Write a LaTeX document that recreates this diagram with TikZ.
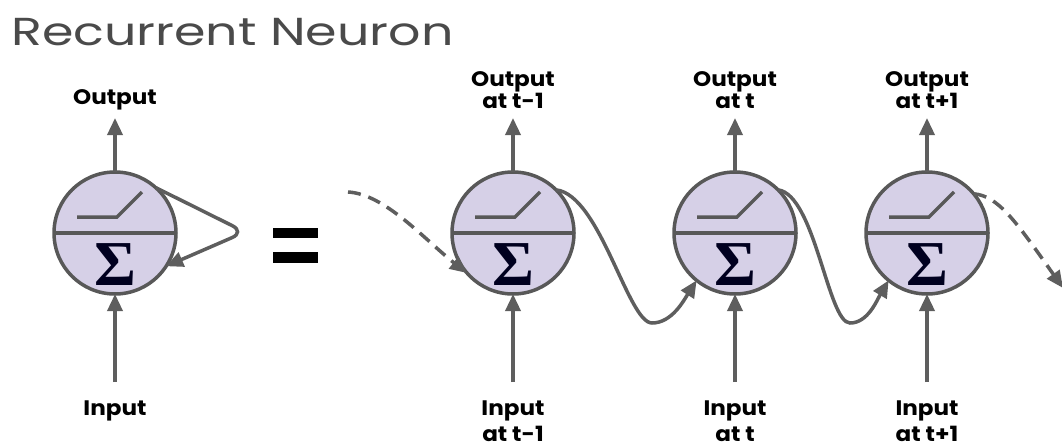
\documentclass[tikz,border=0pt]{standalone}
\usepackage{fontspec}
\setmainfont{Poppins}
\newfontfamily\sigfont{Liberation Serif}
\newfontfamily\lblfont[FakeStretch=1.1]{Poppins}
\newfontfamily\ttlfont[FakeStretch=1.3]{Poppins}
\usetikzlibrary{arrows.meta}
\definecolor{lav}{HTML}{D6D0E7}
\definecolor{edgec}{HTML}{585858}
\definecolor{arrc}{HTML}{5E5E5E}
\definecolor{ttl}{HTML}{4A4A4A}
\begin{document}
\begin{tikzpicture}[x=1pt,y=-1pt,
  neuron/.style={circle, draw=edgec, line width=3.5pt, fill=lav, minimum size=122pt, inner sep=0pt, outer sep=0pt},
  arr/.style={draw=arrc, line width=3.5pt, -{Triangle[length=17pt,width=15pt]}},
  dasharr/.style={arr, dash pattern=on 13pt off 8pt},
  lbl/.style={font=\lblfont\bfseries\fontsize{21}{22}\selectfont, align=center, text=black, inner sep=0pt},
  lblin/.style={font=\lblfont\bfseries\fontsize{21}{26}\selectfont, align=center, text=black, inner sep=0pt},
  inner/.style={draw=edgec, line width=3.5pt},
  sig/.style={font=\sigfont\bfseries\fontsize{64}{64}\selectfont, text=black!88!blue, inner sep=0pt}
]
\useasboundingbox (0,0) rectangle (1062,447);

% title
\node[anchor=base west, inner sep=0pt, text=ttl, font=\ttlfont\fontsize{39}{39}\selectfont] (title) at (11,45) {Recurrent Neuron};

% neurons
\foreach \n/\x in {n0/115, n1/513, n2/735, n3/927}{
  \node[neuron] (\n) at (\x,233) {};
  \draw[inner] (\n.west) -- (\n.east);
  \draw[inner] ([shift={(-38,-16)}]\n.center) -- ++(40,0) -- ++(25,-25);
  \node[sig] at ([shift={(0,32)}]\n.center) {Σ};
}

% equals sign
\fill[black] (273,228) rectangle (318,238);
\fill[black] (273,252) rectangle (318,263);

% output labels
\node[lbl, anchor=base] (o0) at (115,104) {Output};
\node[lbl, anchor=south] (o1) at (513,109) {Output\\at t-1};
\node[lbl, anchor=south] (o2) at (735,109) {Output\\at t};
\node[lbl, anchor=south] (o3) at (927,109) {Output\\at t+1};

% input labels
\node[lblin, anchor=base] (i0) at (115,415) {Input};
\node[lblin, anchor=south] (i1) at (513,442) {Input\\at t-1};
\node[lblin, anchor=south] (i2) at (735,442) {Input\\at t};
\node[lblin, anchor=south] (i3) at (927,442) {Input\\at t+1};

% arrow ends
\foreach \n/\x in {0/115, 1/513, 2/735, 3/927}{
  \coordinate (ot\n) at (\x,118);
  \coordinate (ib\n) at (\x,382);
  \draw[arr] (n\n.north) -- (ot\n);
  \draw[arr] (ib\n) -- (n\n.south);
}

% self loop
\coordinate (loopc) at (245,232);
\draw[arr, rounded corners=14pt] (n0.48) -- (loopc) -- (n0.-33);

% dashed in
\coordinate (din) at (348,192);
\draw[dasharr] (din) .. controls (385,194) and (425,240) .. (n1.221);

% S curves
\draw[arr] (n1.45) .. controls (600,195) and (628,323) .. (652,323)
  .. controls (672,323) and (684,300) .. (n2.231);
\draw[arr] (n2.45) .. controls (815,195) and (828,323) .. (850,323)
  .. controls (868,323) and (877,300) .. (n3.231);

% dashed out
\coordinate (dout) at (1063,288);
\draw[dasharr] (n3.40) .. controls (998,196) and (1015,220) .. (dout);
\end{tikzpicture}
\end{document}
